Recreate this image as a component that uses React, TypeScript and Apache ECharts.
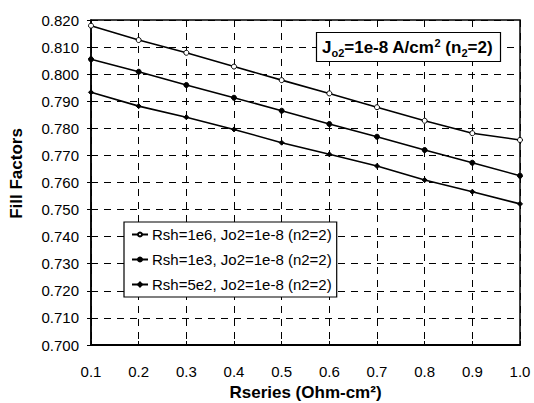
import React, { useEffect, useRef } from "react";
import * as echarts from "echarts";

const xValues = [0.1, 0.2, 0.3, 0.4, 0.5, 0.6, 0.7, 0.8, 0.9, 1.0];
const seriesNames = [
  "Rsh=1e6, Jo2=1e-8 (n2=2)",
  "Rsh=1e3, Jo2=1e-8 (n2=2)",
  "Rsh=5e2, Jo2=1e-8 (n2=2)",
];
const rsh1e6 = [0.8179, 0.8126, 0.8079, 0.8028, 0.7978, 0.7929, 0.7878, 0.7828, 0.7782, 0.7757];
const rsh1e3 = [0.8055, 0.8009, 0.796, 0.7913, 0.7865, 0.7816, 0.7769, 0.772, 0.7673, 0.7625];
const rsh5e2 = [0.7933, 0.7882, 0.7841, 0.7796, 0.7747, 0.7704, 0.7661, 0.7609, 0.7566, 0.7521];

const FONT = "Liberation Sans, Arial, sans-serif";

export default function App() {
  const ref = useRef<HTMLDivElement>(null);
  useEffect(() => {
    if (!ref.current) return;
    const chart = echarts.init(ref.current, undefined, { renderer: "svg" });
    const mk = (name: string, vals: number[], symbol: string, fill: string, size: number) => ({
      name,
      type: "line",
      data: xValues.map((x, i) => [x, vals[i]]),
      symbol,
      symbolSize: size,
      showSymbol: true,
      lineStyle: { color: "#000", width: 1.6 },
      itemStyle: { color: fill, borderColor: "#000", borderWidth: 1 },
    });
    chart.setOption({
      animation: false,
      backgroundColor: "#fff",
      textStyle: { fontFamily: FONT },
      grid: {
        left: 91,
        right: 14,
        top: 20,
        bottom: 58,
        show: true,
        borderColor: "#000",
        borderWidth: 1.5,
        outerBoundsMode: "none",
        containLabel: false,
      },
      title: {
        text: "{b|J}{s|o2}{b|=1e-8 A/cm}{p|2}{b| (n}{s|2}{b|=2)}",
        left: 316,
        top: 32,
        padding: [5, 8, 4, 6],
        borderColor: "#000",
        borderWidth: 1.2,
        backgroundColor: "#fff",
        textStyle: {
          rich: {
            b: { fontFamily: FONT, fontWeight: "bold", fontSize: 17, color: "#000", lineHeight: 21, verticalAlign: "middle" },
            s: { fontFamily: FONT, fontWeight: "bold", fontSize: 11, color: "#000", lineHeight: 21, verticalAlign: "bottom", padding: [9, 0, 0, 0] },
            p: { fontFamily: FONT, fontWeight: "bold", fontSize: 11, color: "#000", lineHeight: 21, verticalAlign: "top", padding: [0, 0, 9, 0] },
          },
        },
      },
      legend: {
        orient: "vertical",
        left: 124,
        top: 222,
        padding: [5, 5, 5, 7],
        itemGap: 10,
        itemWidth: 16,
        itemHeight: 5,
        borderColor: "#000",
        borderWidth: 1.2,
        backgroundColor: "#fff",
        textStyle: { fontFamily: FONT, fontSize: 15, color: "#000", padding: [0, 0, 0, -1] },
        data: seriesNames,
      },
      xAxis: {
        type: "value",
        min: 0.1,
        max: 1.0,
        interval: 0.1,
        name: "Rseries (Ohm-cm²)",
        nameLocation: "middle",
        nameGap: 38,
        nameTextStyle: { fontFamily: FONT, fontWeight: "bold", fontSize: 17, color: "#000" },
        axisLine: { lineStyle: { color: "#000", width: 2 } },
        axisTick: { show: true, inside: true, length: 4, lineStyle: { color: "#000" } },
        axisLabel: {
          color: "#000",
          fontSize: 15,
          fontFamily: FONT,
          margin: 19,
          formatter: (v: number) => v.toFixed(1),
        },
        splitLine: { show: true, lineStyle: { color: "#000", type: [7, 6], width: 1 } },
      },
      yAxis: {
        type: "value",
        min: 0.7,
        max: 0.82,
        interval: 0.01,
        name: "Fill Factors",
        nameLocation: "middle",
        nameGap: 66,
        nameTextStyle: { fontFamily: FONT, fontWeight: "bold", fontSize: 17, color: "#000", padding: [0, 0, 0, 18] },
        axisLine: { show: true, lineStyle: { color: "#000", width: 1.5 } },
        axisTick: { show: true, inside: false, length: 4, lineStyle: { color: "#000" } },
        axisLabel: {
          color: "#000",
          fontSize: 15,
          fontFamily: FONT,
          margin: 12,
          formatter: (v: number) => v.toFixed(3),
        },
        splitLine: { show: true, lineStyle: { color: "#000", type: [7, 6], width: 1 } },
      },
      series: [
        mk(seriesNames[0], rsh1e6, "circle", "#fff", 5),
        mk(seriesNames[1], rsh1e3, "circle", "#000", 5),
        mk(seriesNames[2], rsh5e2, "diamond", "#000", 5),
      ],
    });
    return () => chart.dispose();
  }, []);
  return (
    <div
      ref={ref}
      style={{ position: "fixed", left: 0, top: 0, width: 534, height: 403 }}
    />
  );
}
